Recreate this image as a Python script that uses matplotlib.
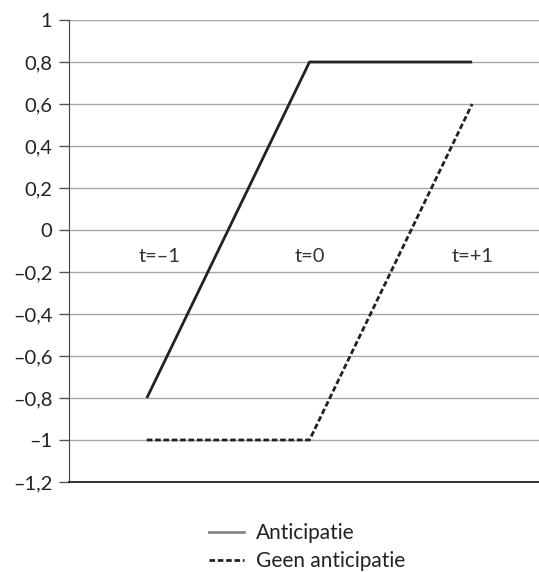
import matplotlib
matplotlib.use("Agg")
import matplotlib.pyplot as plt
from matplotlib.lines import Line2D
import numpy as np

plt.rcParams['font.family'] = ['Lato', 'DejaVu Sans']

# data
periods = [-1, 0, 1]
anticipatie = [-0.8, 0.8, 0.8]
geen_anticipatie = [-1.0, -1.0, 0.6]
period_labels = ["t=\u20131", "t=0", "t=+1"]
yticks = [1, 0.8, 0.6, 0.4, 0.2, 0, -0.2, -0.4, -0.6, -0.8, -1, -1.2]

FS = 14.5


def fmt(v):
    s = ("%g" % round(abs(v), 1)).replace(".", ",")
    return ("\u2013" + s) if v < 0 else s


fig = plt.figure(figsize=(5.39, 5.72), dpi=100)
ax = fig.add_axes([69 / 539, 1 - 482 / 572, 1 - 69 / 539, (482 - 20) / 572])

ax.plot(periods, anticipatie, color="#222222", lw=2, solid_capstyle="butt", zorder=3)
ax.plot(periods, geen_anticipatie, color="#222222", lw=2, ls=(0, (2, 1)), zorder=3)

for x, lab in zip(periods, period_labels):
    ax.text(x + (0.08 if x == -1 else 0), -0.125, lab, ha="center", va="center",
            fontsize=FS, color="#333333")

ax.set_ylim(-1.2, 1)
ax.set_xlim(-1 - 78 / 163, 1 + 67 / 163)
ax.set_yticks(yticks)
ax.set_yticklabels([fmt(v) for v in yticks])
ax.set_xticks([])
ax.yaxis.grid(True, color="#a6a6a6", lw=1)
ax.set_axisbelow(True)
ax.tick_params(axis="y", length=7, width=1, color="#555555", labelsize=FS,
               labelcolor="#222222", pad=5)
for s in ["top", "right"]:
    ax.spines[s].set_visible(False)
ax.spines["left"].set_color("#444444")
ax.spines["bottom"].set_color("#222222")
ax.spines["bottom"].set_linewidth(1.3)

handles = [Line2D([], [], color="#888888", lw=2),
           Line2D([], [], color="#222222", lw=2, ls=(0, (2, 1)))]
fig.legend(handles, ["Anticipatie", "Geen anticipatie"], loc="upper left",
           bbox_to_anchor=(209 / 539, 1 - 523 / 572), frameon=False,
           borderpad=0, borderaxespad=0,
           fontsize=15, handlelength=1.7, handletextpad=0.55, labelspacing=0.4,
           labelcolor="#222222")

fig.savefig("out.png", dpi=100)
